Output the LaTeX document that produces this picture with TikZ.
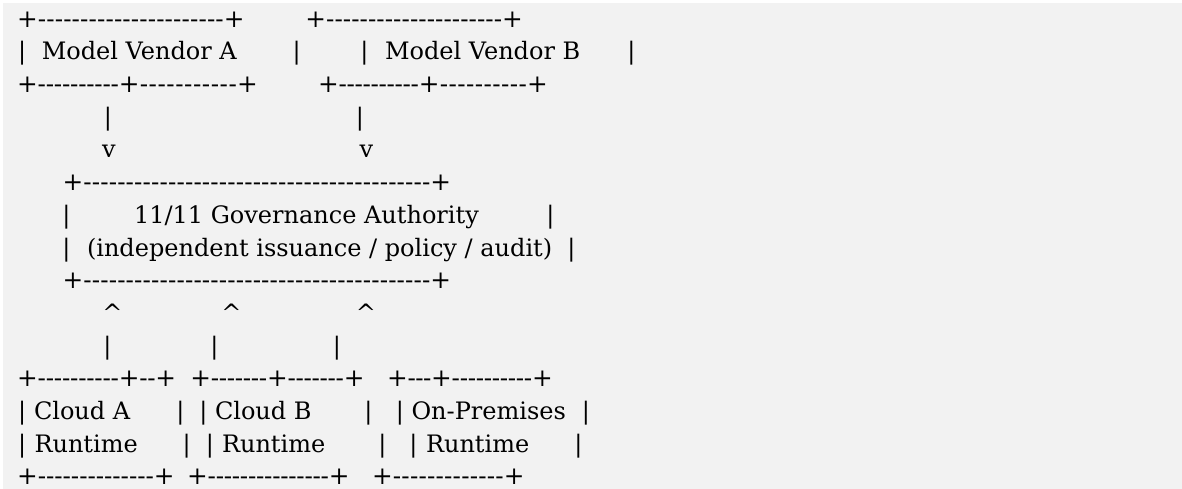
\documentclass[tikz,border=0pt]{standalone}
\usepackage{fontspec}
\setmainfont{DejaVu Serif}[Ligatures=TeXOff]
\ExplSyntaxOn
\newcommand\dr[2]{\hbox to #2pt{\prg_replicate:nn{#1}{\hss-\hss}}}
\ExplSyntaxOff
\newcommand\asc{\fontsize{24}{29}\selectfont}
\newcommand\ascd{\fontsize{24.7}{30}\selectfont}
\definecolor{bgc}{HTML}{F2F2F2}
\begin{document}
\begin{tikzpicture}[x=1pt,y=-1pt,
  every node/.style={inner sep=0pt,outer sep=0pt,font=\asc,text=black},
  tl/.style={anchor=base west},
  gl/.style={anchor=base},
  pl/.style={anchor=base,font=\ascd},
  dl/.style={anchor=base west,font=\ascd}]
\fill[white] (0,0) rectangle (1182,489);
\fill[bgc] (3,3) rectangle (1182,489);
\useasboundingbox (0,0) rectangle (1182,489);
% ---------- line 1: vendor box tops
\node[pl] (p1a) at (27.5,27.3) {+};
\node[dl] (d1a) at (37.85,27.3) {\dr{22}{186.0}};
\node[pl] (p1b) at (234.2,27.3) {+};
\node[pl] (p1c) at (315.8,27.3) {+};
\node[dl] (d1b) at (326.15,27.3) {\dr{21}{176.0}};
\node[pl] (p1d) at (512.5,27.3) {+};
% ---------- line 2
\node[gl] (b2a) at (22.2,60) {|};
\node[tl] (vendA) at (41.8,60) {Model Vendor A};
\node[gl] (b2b) at (296.7,60) {|};
\node[gl] (b2c) at (364.5,60) {|};
\node[tl] (vendB) at (385,60) {Model Vendor B};
\node[gl] (b2d) at (631.5,60) {|};
% ---------- line 3: vendor box bottoms
\node[pl] (p3a) at (27.5,92.6) {+};
\node[dl] (d3a) at (37.85,92.6) {\dr{10}{81.0}};
\node[pl] (p3b) at (129.2,92.6) {+};
\node[dl] (d3b) at (139.55,92.6) {\dr{11}{97.6}};
\node[pl] (p3c) at (247.5,92.6) {+};
\node[pl] (p3d) at (328.5,92.6) {+};
\node[dl] (d3c) at (338.85,92.6) {\dr{10}{80.0}};
\node[pl] (p3e) at (429.2,92.6) {+};
\node[dl] (d3d) at (439.55,92.6) {\dr{10}{87.6}};
\node[pl] (p3f) at (537.5,92.6) {+};
% ---------- lines 4-5: arrows down
\node[gl] (b4a) at (108,125.3) {|};
\node[gl] (b4b) at (360,125.3) {|};
\node[gl] (v5a) at (109,158) {v};
\node[gl] (v5b) at (366.5,158) {v};
% ---------- lines 6-9: governance box
\node[pl] (p6a) at (73,190.7) {+};
\node[dl] (d6) at (83.35,190.7) {\dr{41}{347.1}};
\node[pl] (p6b) at (440.8,190.7) {+};
\node[gl] (b7a) at (66.5,223.3) {|};
\node[tl] (gov) at (134,223.3) {11/11 Governance Authority};
\node[gl] (b7b) at (550.5,223.3) {|};
\node[gl] (b8a) at (66.5,256) {|};
\node[tl] (govsub) at (87,256) {(independent issuance / policy / audit)};
\node[gl] (b8b) at (571.5,256) {|};
\node[pl] (p9a) at (73,288.7) {+};
\node[dl] (d9) at (83.35,288.7) {\dr{41}{347.1}};
\node[pl] (p9b) at (440.8,288.7) {+};
% ---------- lines 10-11: arrows up
\node[gl] (c10a) at (112.5,321.3) {\textasciicircum};
\node[gl] (c10b) at (231.5,321.3) {\textasciicircum};
\node[gl] (c10c) at (366,321.3) {\textasciicircum};
\node[gl] (b11a) at (107.5,354) {|};
\node[gl] (b11b) at (214.5,354) {|};
\node[gl] (b11c) at (337,354) {|};
% ---------- line 12: runtime box tops
\node[pl] (p12a) at (27.5,386.7) {+};
\node[dl] (d12a) at (37.85,386.7) {\dr{10}{81.0}};
\node[pl] (p12b) at (129.2,386.7) {+};
\node[dl] (d12b) at (139.55,386.7) {\dr{2}{15.9}};
\node[pl] (p12c) at (165.8,386.7) {+};
\node[pl] (p12d) at (200.8,386.7) {+};
\node[dl] (d12c) at (211.15,386.7) {\dr{7}{56.0}};
\node[pl] (p12e) at (277.5,386.7) {+};
\node[dl] (d12d) at (287.85,386.7) {\dr{7}{56.0}};
\node[pl] (p12f) at (354.2,386.7) {+};
\node[pl] (p12g) at (397.5,386.7) {+};
\node[dl] (d12e) at (407.85,386.7) {\dr{3}{23.3}};
\node[pl] (p12h) at (441.5,386.7) {+};
\node[dl] (d12f) at (451.85,386.7) {\dr{10}{80.3}};
\node[pl] (p12i) at (542.5,386.7) {+};
% ---------- line 13
\node[gl] (b13a) at (22.2,419.3) {|};
\node[tl] (cloudA) at (34,419.3) {Cloud A};
\node[gl] (b13b) at (180.5,419.3) {|};
\node[gl] (b13c) at (203.3,419.3) {|};
\node[tl] (cloudB) at (215,419.3) {Cloud B};
\node[gl] (b13d) at (368.3,419.3) {|};
\node[gl] (b13e) at (400,419.3) {|};
\node[tl] (onprem) at (411.5,419.3) {On-Premises};
\node[gl] (b13f) at (586,419.3) {|};
% ---------- line 14
\node[gl] (b14a) at (22.2,452) {|};
\node[tl] (rtA) at (34.5,452) {Runtime};
\node[gl] (b14b) at (186.7,452) {|};
\node[gl] (b14c) at (210,452) {|};
\node[tl] (rtB) at (222,452) {Runtime};
\node[gl] (b14d) at (382.3,452) {|};
\node[gl] (b14e) at (413.3,452) {|};
\node[tl] (rtC) at (426,452) {Runtime};
\node[gl] (b14f) at (578.5,452) {|};
% ---------- line 15: runtime box bottoms
\node[pl] (p15a) at (27.5,484.7) {+};
\node[dl] (d15a) at (37.85,484.7) {\dr{14}{116.0}};
\node[pl] (p15b) at (164.2,484.7) {+};
\node[pl] (p15c) at (197.5,484.7) {+};
\node[dl] (d15b) at (207.85,484.7) {\dr{15}{121.0}};
\node[pl] (p15d) at (339.2,484.7) {+};
\node[pl] (p15e) at (382.5,484.7) {+};
\node[dl] (d15c) at (392.85,484.7) {\dr{13}{111.0}};
\node[pl] (p15f) at (514.2,484.7) {+};
\end{tikzpicture}
\end{document}
